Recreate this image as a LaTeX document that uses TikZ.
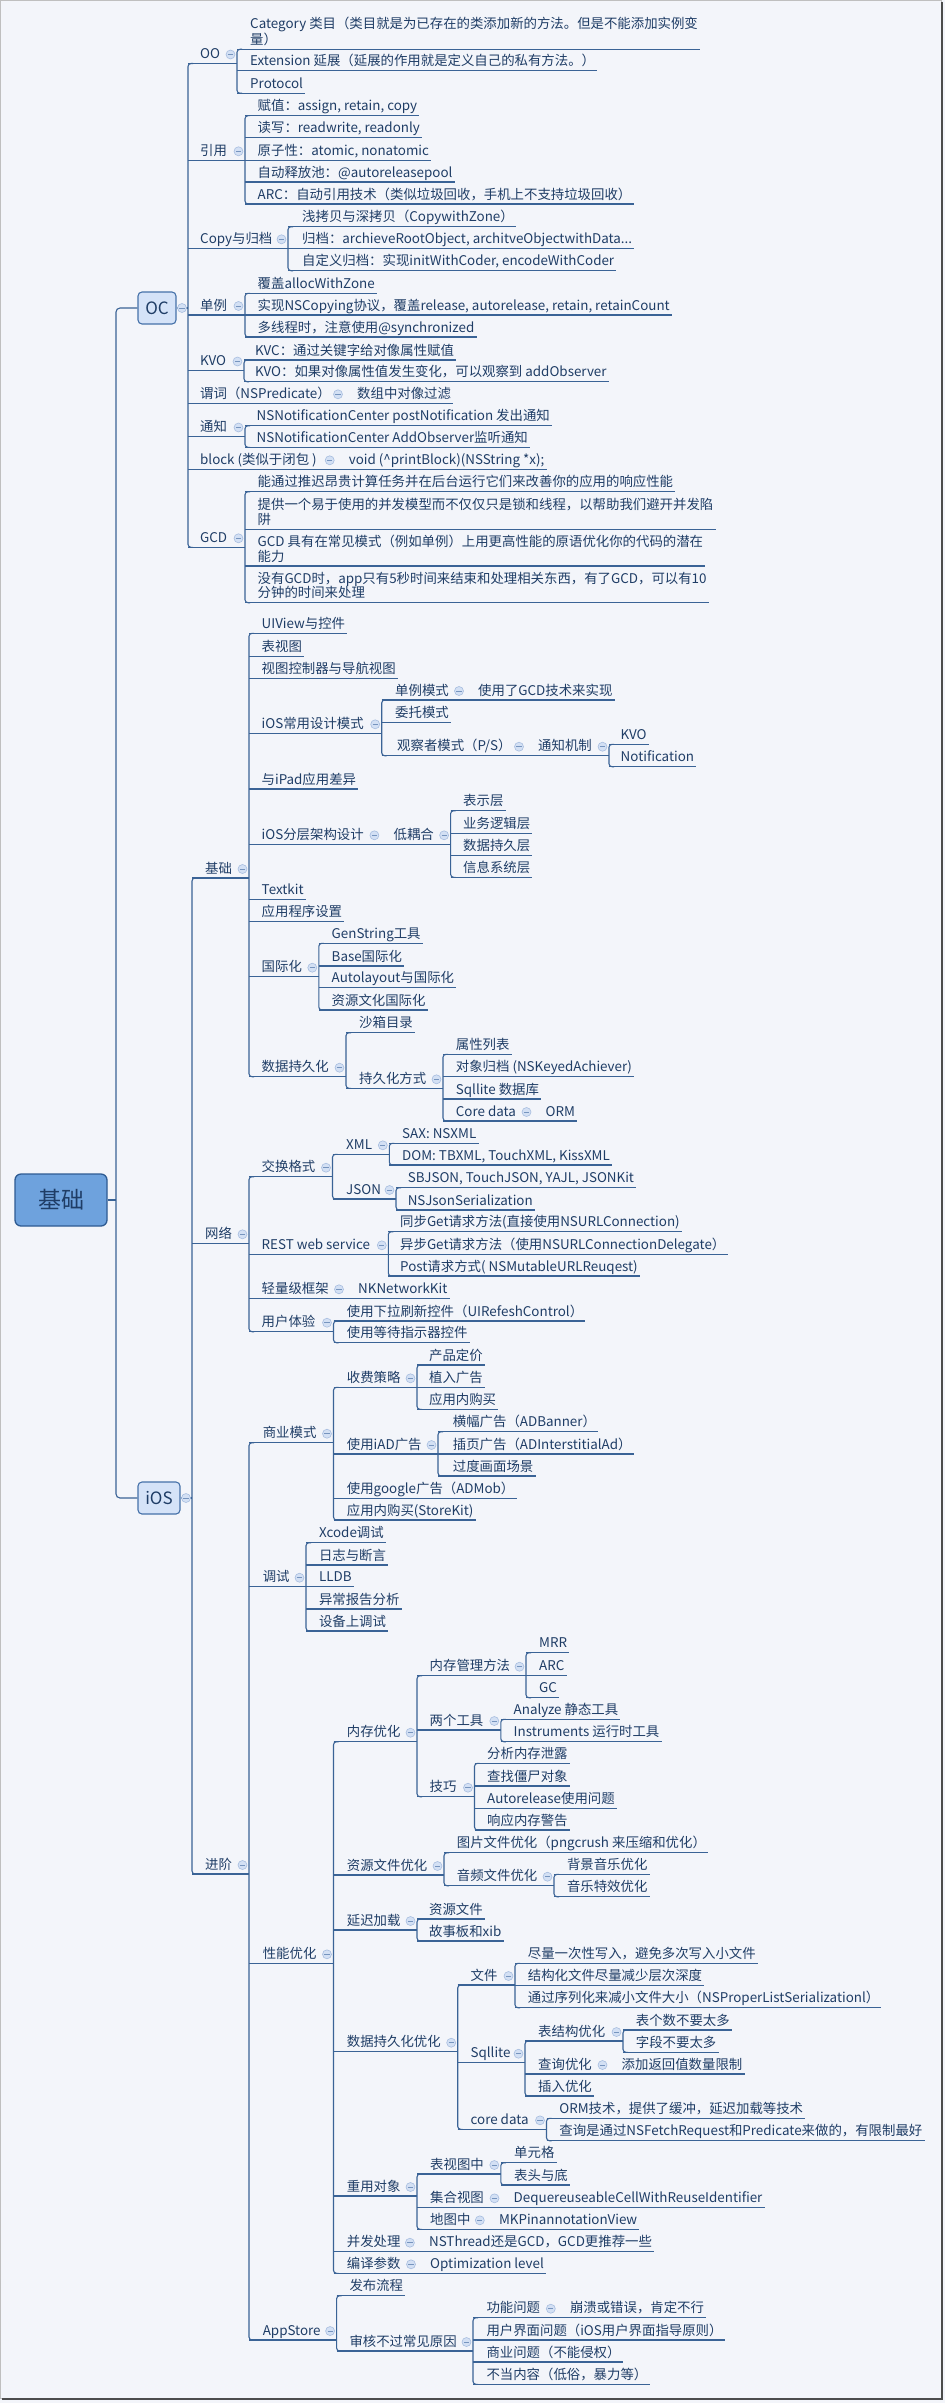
\documentclass[tikz,border=0pt]{standalone}
\usepackage{fontspec}
\setmainfont{Noto Sans CJK SC}
\usepackage{tikz}
\usetikzlibrary{calc}
\definecolor{bgPaper}{HTML}{F3F5FA}
\definecolor{lineBlue}{HTML}{3A6396}
\definecolor{textBlue}{HTML}{1F3D66}
\definecolor{foldFill}{HTML}{D3E0F4}
\definecolor{foldLine}{HTML}{A7BDDF}
\definecolor{rootFill}{HTML}{6EA2DD}
\definecolor{rootLine}{HTML}{2E5B92}
\definecolor{boxFill}{HTML}{D5E3F8}
\definecolor{boxLine}{HTML}{4571A9}

\newcommand{\tsize}{\fontsize{13.4}{14.5}\selectfont}
\newcommand{\lastdp}{\rule[-4.2pt]{0pt}{4.2pt}}
% parent, x of the children line, first child, last child, all children
\newcommand{\topicfork}[5]{%
  \coordinate (#1-v) at (#2,0);
  \draw[link] (#1.south east) -- (#1.south west -| #1-v);
  \draw[link, rounded corners=3pt] ($(#3.south west -| #1-v)+(5,0)$) -- (#3.south west -| #1-v)
    -- (#4.south west -| #1-v) -- ($(#4.south west -| #1-v)+(5,0)$);
  \foreach \ch in {#5} \draw[link] (\ch.south west -| #1-v) -- (\ch.south east);
  \node[fold] at ($(#1.south west -| #1-v)+(-6.5,-9)$) {};
}
\newcommand{\topicchain}[2]{%
  \draw[link] (#1.south east) -- (#2.south east);
  \node[fold] at ($(#2.south west)+(-17,-9)$) {};
}

\begin{document}
\begin{tikzpicture}[x=1pt, y=-1pt,
    link/.style={draw=lineBlue, line width=1.1pt},
    topic/.style={anchor=south west, inner xsep=2pt, inner ysep=0.5pt, text height=10pt, text depth=4.2pt, text=textBlue, font=\tsize},
    wrap/.style={anchor=south west, inner xsep=2pt, inner ysep=0.5pt, align=left, text=textBlue, font=\tsize},
    fold/.style={circle, inner sep=0pt, minimum size=9pt, fill=foldFill, draw=foldLine, line width=0.6pt,
      path picture={\draw[lineBlue!45!foldLine, line width=0.8pt] ([xshift=-2.6pt]path picture bounding box.center) -- ([xshift=2.6pt]path picture bounding box.center);}},
    mainbox/.style={rounded corners=4pt, fill=boxFill, draw=boxLine, line width=1.1pt, minimum height=32pt, inner xsep=3pt, text=textBlue, font=\fontsize{17}{19}\selectfont},
    rootbox/.style={rounded corners=6pt, fill=rootFill, draw=rootLine, line width=1.3pt, minimum width=92pt, minimum height=52pt, text=textBlue, font=\fontsize{23}{25}\selectfont}]
    \useasboundingbox (0,0) rectangle (945,2403);
    \fill[bgPaper] (0,0) rectangle (945,2403);
    \draw[black!25, line width=0.8pt] (0.5,0.5) rectangle (941,2398);
    \draw[black!70, line width=2pt] (942,2) -- (942,2399) -- (2,2399);

    \node[rootbox] (root) at (61,1200) {基础};
    \node[mainbox, minimum width=38pt] (oc) at (157,308) {OC};
    \node[mainbox, minimum width=42pt] (ios) at (159,1498) {iOS};
    \coordinate (root-v) at (116,0);
    \draw[link] (root.east) -- (root.east -| root-v);
    \draw[link, rounded corners=4pt] (oc.west) -- (oc.west -| root-v) -- (ios.west -| root-v) -- (ios.west);

    % OC
    \foreach \n/\y/\txt in {oo/63.5/OO, ref/160.3/引用, cpy/248.3/Copy与归档, sgl/315/单例, kvo/370.5/KVO,
        pred/403.3/谓词（NSPredicate）, ntf/436.5/通知, blk/469.3/block (类似于闭包 ), gcd/547.3/GCD}
        \node[topic] (\n) at (198,\y) {\txt};
    \coordinate (oc-v) at (188,0);
    \draw[link] (oc.east) -- (oc.east -| oc-v);
    \draw[link, rounded corners=3pt] ($(oo.south west -| oc-v)+(5,0)$) -- (oo.south west -| oc-v)
        -- (gcd.south west -| oc-v) -- ($(gcd.south west -| oc-v)+(5,0)$);
    \foreach \ch in {oo,ref,cpy,sgl,kvo,pred,ntf,blk,gcd}
        \draw[link] (\ch.south west -| oc-v) -- (\ch.south east);
    \node[fold] at (182,308) {};

    \node[wrap] (cat) at (248,49.3) {Category 类目（类目就是为已存在的类添加新的方法。但是不能添加实例变\\量）\lastdp};
    \node[topic] (ext) at (248,70.7) {Extension 延展（延展的作用就是定义自己的私有方法。）};
    \node[topic] (ptc) at (248,93.3) {Protocol};
    \topicfork{oo}{237}{cat}{ptc}{cat,ext,ptc}

    \foreach \n/\y/\txt in {r1/115.7/{赋值：assign, retain, copy}, r2/137.7/{读写：readwrite, readonly},
        r3/160.3/{原子性：atomic, nonatomic}, r4/182/{自动释放池：@autoreleasepool},
        r5/204/{ARC：自动引用技术（类似垃圾回收，手机上不支持垃圾回收）}}
        \node[topic] (\n) at (255.5,\y) {\txt};
    \topicfork{ref}{245}{r1}{r5}{r1,r2,r3,r4,r5}

    \node[topic] (c1) at (300,226.7) {浅拷贝与深拷贝（CopywithZone）};
    \node[topic] (c2) at (300,248.3) {归档：archieveRootObject, architveObjectwithData...};
    \node[topic] (c3) at (300,270.7) {自定义归档：实现initWithCoder, encodeWithCoder};
    \topicfork{cpy}{288}{c1}{c3}{c1,c2,c3}

    \foreach \n/\y/\txt in {s1/293.3/覆盖allocWithZone, s2/315/{实现NSCopying协议，覆盖release, autorelease, retain, retainCount},
        s3/337/多线程时，注意使用@synchronized}
        \node[topic] (\n) at (255.5,\y) {\txt};
    \topicfork{sgl}{245}{s1}{s3}{s1,s2,s3}

    \node[topic] (k1) at (253,360) {KVC：通过关键字给对像属性赋值};
    \node[topic] (k2) at (253,381.7) {KVO：如果对像属性值发生变化，可以观察到 addObserver};
    \topicfork{kvo}{244}{k1}{k2}{k1,k2}

    \node[topic] (predx) at (355,403.3) {数组中对像过滤};
    \topicchain{pred}{predx}

    \node[topic] (n1) at (254.5,425.7) {NSNotificationCenter postNotification 发出通知};
    \node[topic] (n2) at (254.5,447.3) {NSNotificationCenter AddObserver监听通知};
    \topicfork{ntf}{245}{n1}{n2}{n1,n2}

    \node[topic] (blkx) at (346.7,469.3) {void (\textasciicircum printBlock)(NSString *x);};
    \topicchain{blk}{blkx}

    \node[topic] (g1) at (255.5,491.7) {能通过推迟昂贵计算任务并在后台运行它们来改善你的应用的响应性能};
    \node[wrap] (g2) at (255.5,529.3) {提供一个易于使用的并发模型而不仅仅只是锁和线程，以帮助我们避开并发陷\\阱\lastdp};
    \node[wrap] (g3) at (255.5,566) {GCD 具有在常见模式（例如单例）上用更高性能的原语优化你的代码的潜在\\能力\lastdp};
    \node[wrap] (g4) at (255.5,602.7) {没有GCD时，app只有5秒时间来结束和处理相关东西，有了GCD，可以有10\\分钟的时间来处理\lastdp};
    \topicfork{gcd}{245}{g1}{g4}{g1,g2,g3,g4}

    % iOS
    \foreach \n/\y/\txt in {bas/878/基础, net/1243.3/网络, adv/1874/进阶}
        \node[topic] (\n) at (203,\y) {\txt};
    \coordinate (ios-v) at (192,0);
    \draw[link] (ios.east) -- (ios.east -| ios-v);
    \draw[link, rounded corners=3pt] ($(bas.south west -| ios-v)+(5,0)$) -- (bas.south west -| ios-v)
        -- (adv.south west -| ios-v) -- ($(adv.south west -| ios-v)+(5,0)$);
    \foreach \ch in {bas,net,adv}
        \draw[link] (\ch.south west -| ios-v) -- (\ch.south east);
    \node[fold] at (186,1498) {};

    \foreach \n/\y/\txt in {b1/633.3/UIView与控件, b2/656.7/表视图, b3/678.3/视图控制器与导航视图, dsg/733.3/iOS常用设计模式,
        b5/789/与iPad应用差异, arc/844.3/iOS分层架构设计, b7/899.3/Textkit, b8/921.7/应用程序设置,
        intl/976.7/国际化, pst/1076.7/数据持久化}
        \node[topic] (\n) at (259.5,\y) {\txt};
    \topicfork{bas}{249}{b1}{pst}{b1,b2,b3,dsg,b5,arc,b7,b8,intl,pst}

    \node[topic] (sgm) at (393,700) {单例模式};
    \node[topic] (sgmx) at (476,700) {使用了GCD技术来实现};
    \topicchain{sgm}{sgmx}
    \node[topic] (dlg) at (393,722.3) {委托模式};
    \node[topic] (obs) at (395,755.7) {观察者模式（P/S）};
    \node[topic] (mech) at (536,755.7) {通知机制};
    \topicchain{obs}{mech}
    \topicfork{dsg}{381.7}{sgm}{obs}{sgm,dlg,obs}
    \node[topic] (kv) at (618.5,744.3) {KVO};
    \node[topic] (nt) at (618.5,766.7) {Notification};
    \topicfork{mech}{609}{kv}{nt}{kv,nt}

    \node[topic] (cpl) at (391.4,844.3) {低耦合};
    \topicchain{arc}{cpl}
    \foreach \n/\y/\txt in {l1/810.7/表示层, l2/833.3/业务逻辑层, l3/855.3/数据持久层, l4/877.3/信息系统层}
        \node[topic] (\n) at (461,\y) {\txt};
    \topicfork{cpl}{450.6}{l1}{l4}{l1,l2,l3,l4}

    \foreach \n/\y/\txt in {i1/943.3/GenString工具, i2/966/Base国际化, i3/987.7/Autolayout与国际化, i4/1010/资源文化国际化}
        \node[topic] (\n) at (329.5,\y) {\txt};
    \topicfork{intl}{318.8}{i1}{i4}{i1,i2,i3,i4}

    \node[topic] (sbx) at (357,1032.7) {沙箱目录};
    \node[topic] (pway) at (357,1088.3) {持久化方式};
    \topicfork{pst}{346}{sbx}{pway}{sbx,pway}
    \foreach \n/\y/\txt in {p1/1054.3/属性列表, p2/1076.7/对象归档 (NSKeyedAchiever), p3/1099/Sqllite 数据库, cdt/1121/Core data}
        \node[topic] (\n) at (453.7,\y) {\txt};
    \node[topic] (orm) at (543.5,1121) {ORM};
    \topicchain{cdt}{orm}
    \topicfork{pway}{443}{p1}{cdt}{p1,p2,p3,cdt}

    \foreach \n/\y/\txt in {fmt/1176.7/交换格式, rest/1254.3/REST web service, lite/1298.3/轻量级框架, ux/1331.7/用户体验}
        \node[topic] (\n) at (259.5,\y) {\txt};
    \topicfork{net}{249}{fmt}{ux}{fmt,rest,lite,ux}
    \node[topic] (xml) at (344,1154.3) {XML};
    \node[topic] (json) at (344,1199) {JSON};
    \topicfork{fmt}{332.5}{xml}{json}{xml,json}
    \node[topic] (x1) at (400,1143.3) {SAX: NSXML};
    \node[topic] (x2) at (400,1165) {DOM: TBXML, TouchXML, KissXML};
    \topicfork{xml}{389.3}{x1}{x2}{x1,x2}
    \node[topic] (j1) at (405.6,1187.7) {SBJSON, TouchJSON, YAJL, JSONKit};
    \node[topic] (j2) at (405.6,1210) {NSJsonSerialization};
    \topicfork{json}{396}{j1}{j2}{j1,j2}
    \node[topic] (w1) at (398,1231.7) {同步Get请求方法(直接使用NSURLConnection)};
    \node[topic] (w2) at (398,1254.3) {异步Get请求方法（使用NSURLConnectionDelegate）};
    \node[topic] (w3) at (398,1276) {Post请求方式( NSMutableURLReuqest)};
    \topicfork{rest}{388.3}{w1}{w3}{w1,w2,w3}
    \node[topic] (litex) at (356,1298.3) {NKNetworkKit};
    \topicchain{lite}{litex}
    \node[topic] (u1) at (344.7,1321) {使用下拉刷新控件（UIRefeshControl）};
    \node[topic] (u2) at (344.7,1342.7) {使用等待指示器控件};
    \topicfork{ux}{333.5}{u1}{u2}{u1,u2}

    \foreach \n/\y/\txt in {biz/1442.7/商业模式, dbg/1586.7/调试, perf/1963.3/性能优化, app/2340/AppStore}
        \node[topic] (\n) at (260.6,\y) {\txt};
    \topicfork{adv}{249}{biz}{app}{biz,dbg,perf,app}

    \foreach \n/\y/\txt in {fee/1387.3/收费策略, iad/1454/使用iAD广告, gad/1498.3/使用google广告（ADMob）, skit/1520/应用内购买(StoreKit)}
        \node[topic] (\n) at (344.7,\y) {\txt};
    \topicfork{biz}{333.5}{fee}{skit}{fee,iad,gad,skit}
    \foreach \n/\y/\txt in {f1/1365/产品定价, f2/1387.3/植入广告, f3/1409.3/应用内购买}
        \node[topic] (\n) at (426.9,\y) {\txt};
    \topicfork{fee}{417}{f1}{f3}{f1,f2,f3}
    \foreach \n/\y/\txt in {a1/1431.7/横幅广告（ADBanner）, a2/1454/插页广告（ADInterstitialAd）, a3/1476/过度画面场景}
        \node[topic] (\n) at (450.7,\y) {\txt};
    \topicfork{iad}{438}{a1}{a3}{a1,a2,a3}

    \foreach \n/\y/\txt in {d1/1542.7/Xcode调试, d2/1565/日志与断言, d3/1586.7/LLDB, d4/1609/异常报告分析, d5/1631/设备上调试}
        \node[topic] (\n) at (316.8,\y) {\txt};
    \topicfork{dbg}{306}{d1}{d5}{d1,d2,d3,d4,d5}

    \foreach \n/\y/\txt in {mem/1741.7/内存优化, res/1875/资源文件优化, lazy/1930/延迟加载, dpo/2051.7/数据持久化优化,
        reuse/2196/重用对象, conc/2251.7/并发处理, comp/2273.3/编译参数}
        \node[topic] (\n) at (344.7,\y) {\txt};
    \topicfork{perf}{333.5}{mem}{comp}{mem,res,lazy,dpo,reuse,conc,comp}

    \foreach \n/\y/\txt in {mm/1675.7/内存管理方法, tools/1730/两个工具, tips/1796.7/技巧}
        \node[topic] (\n) at (427.5,\y) {\txt};
    \topicfork{mem}{417}{mm}{tips}{mm,tools,tips}
    \foreach \n/\y/\txt in {m1/1652.7/MRR, m2/1675.7/ARC, m3/1697.7/GC}
        \node[topic] (\n) at (537,\y) {\txt};
    \topicfork{mm}{526}{m1}{m3}{m1,m2,m3}
    \node[topic] (t1) at (511.5,1719.3) {Analyze 静态工具};
    \node[topic] (t2) at (511.5,1741.7) {Instruments 运行时工具};
    \topicfork{tools}{500.8}{t1}{t2}{t1,t2}
    \foreach \n/\y/\txt in {q1/1763.3/分析内存泄露, q2/1786/查找僵尸对象, q3/1808.3/Autorelease使用问题, q4/1830/响应内存警告}
        \node[topic] (\n) at (485,\y) {\txt};
    \topicfork{tips}{474.5}{q1}{q4}{q1,q2,q3,q4}

    \node[topic] (img) at (454.7,1852.7) {图片文件优化（pngcrush 来压缩和优化）};
    \node[topic] (aud) at (454.7,1885.7) {音频文件优化};
    \topicfork{res}{444}{img}{aud}{img,aud}
    \node[topic] (au1) at (564.8,1874.3) {背景音乐优化};
    \node[topic] (au2) at (564.8,1896.7) {音乐特效优化};
    \topicfork{aud}{554}{au1}{au2}{au1,au2}

    \node[topic] (z1) at (426.9,1919) {资源文件};
    \node[topic] (z2) at (426.9,1941) {故事板和xib};
    \topicfork{lazy}{417}{z1}{z2}{z1,z2}

    \foreach \n/\y/\txt in {fil/1985/文件, sql/2062.7/Sqllite, cdb/2129.3/core data}
        \node[topic] (\n) at (468.4,\y) {\txt};
    \topicfork{dpo}{457.7}{fil}{cdb}{fil,sql,cdb}
    \node[topic] (e1) at (525.7,1963.3) {尽量一次性写入，避免多次写入小文件};
    \node[topic] (e2) at (525.7,1985.7) {结构化文件尽量减少层次深度};
    \node[topic] (e3) at (525.7,2007.7) {通过序列化来减小文件大小（NSProperListSerializationl）};
    \topicfork{fil}{515}{e1}{e3}{e1,e2,e3}
    \foreach \n/\y/\txt in {tbs/2041/表结构优化, qry/2074/查询优化, ins/2096/插入优化}
        \node[topic] (\n) at (536,\y) {\txt};
    \topicfork{sql}{525}{tbs}{ins}{tbs,qry,ins}
    \node[topic] (o1) at (633.7,2030) {表个数不要太多};
    \node[topic] (o2) at (633.7,2052.3) {字段不要太多};
    \topicfork{tbs}{623}{o1}{o2}{o1,o2}
    \node[topic] (qryx) at (619.5,2074) {添加返回值数量限制};
    \topicchain{qry}{qryx}
    \node[topic] (h1) at (557.2,2118.3) {ORM技术，提供了缓冲，延迟加载等技术};
    \node[topic] (h2) at (557.2,2140.7) {查询是通过NSFetchRequest和Predicate来做的，有限制最好};
    \topicfork{cdb}{546.5}{h1}{h2}{h1,h2}

    \foreach \n/\y/\txt in {tbv/2174/表视图中, coll/2207.3/集合视图, map/2229.3/地图中}
        \node[topic] (\n) at (428,\y) {\txt};
    \topicfork{reuse}{417}{tbv}{map}{tbv,coll,map}
    \node[topic] (v1) at (512,2162.7) {单元格};
    \node[topic] (v2) at (512,2185) {表头与底};
    \topicfork{tbv}{500.8}{v1}{v2}{v1,v2}
    \node[topic] (collx) at (511.5,2207.3) {DequereuseableCellWithReuseIdentifier};
    \topicchain{coll}{collx}
    \node[topic] (mapx) at (496.8,2229.3) {MKPinannotationView};
    \topicchain{map}{mapx}
    \node[topic] (concx) at (426.9,2251.7) {NSThread还是GCD，GCD更推荐一些};
    \topicchain{conc}{concx}
    \node[topic] (compx) at (428,2273.3) {Optimization level};
    \topicchain{comp}{compx}

    \node[topic] (pub) at (347.3,2295.7) {发布流程};
    \node[topic] (rev) at (347.3,2351) {审核不过常见原因};
    \topicfork{app}{336.6}{pub}{rev}{pub,rev}
    \foreach \n/\y/\txt in {fq/2317.7/功能问题, rv2/2340/用户界面问题（iOS用户界面指导原则）, rv3/2362/商业问题（不能侵权）,
        rv4/2384.3/不当内容（低俗，暴力等）}
        \node[topic] (\n) at (484.3,\y) {\txt};
    \topicfork{rev}{473}{fq}{rv4}{fq,rv2,rv3,rv4}
    \node[topic] (fqx) at (567.8,2317.7) {崩溃或错误，肯定不行};
    \topicchain{fq}{fqx}
\end{tikzpicture}
\end{document}
